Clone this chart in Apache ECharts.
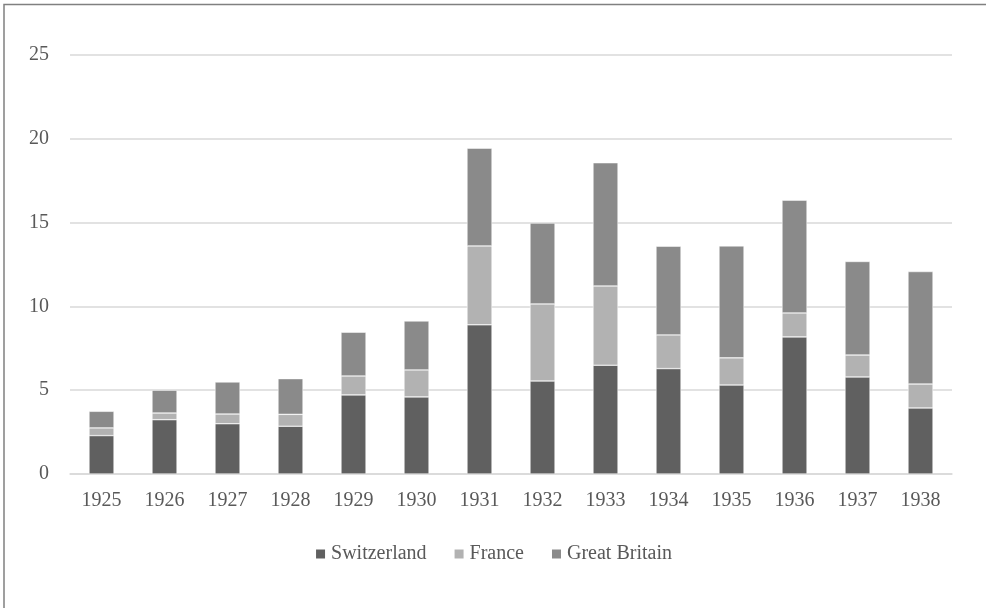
<!DOCTYPE html>
<html>
<head>
<meta charset="utf-8">
<script src="https://cdn.jsdelivr.net/npm/echarts@6/dist/echarts.min.js"></script>
<style>
  html, body { margin: 0; padding: 0; background: #fff; }
  #main { width: 986px; height: 608px; }
</style>
</head>
<body>
<div id="main"></div>
<script>
// data
const years = ["1925", "1926", "1927", "1928", "1929", "1930", "1931", "1932", "1933", "1934", "1935", "1936", "1937", "1938"];
const switzerland = [2.29, 3.24, 3.0, 2.85, 4.72, 4.6, 8.9, 5.55, 6.49, 6.29, 5.31, 8.18, 5.79, 3.94];
const france = [0.46, 0.4, 0.58, 0.71, 1.13, 1.61, 4.71, 4.6, 4.73, 2.01, 1.62, 1.43, 1.31, 1.43];
const greatBritain = [0.99, 1.36, 1.91, 2.13, 2.61, 2.92, 5.83, 4.82, 7.35, 5.29, 6.68, 6.73, 5.58, 6.71];

const textFont = "Liberation Serif";
const textColor = "#595959";

const chart = echarts.init(document.getElementById("main"));

function barSeries(name, data, color) {
  return {
    name: name,
    type: "bar",
    stack: "total",
    barWidth: 25,
    data: data,
    itemStyle: { color: color, borderColor: "#ffffff", borderWidth: 0.5 },
  };
}

chart.setOption({
  animation: false,
  textStyle: { fontFamily: textFont, color: textColor },
  // outer frame (right and bottom edges fall outside the window)
  graphic: [
    {
      type: "rect",
      shape: { x: 4, y: 4.5, width: 1000, height: 700 },
      style: { fill: null, stroke: "#808080", lineWidth: 1.5 },
      silent: true,
    },
  ],
  grid: {
    left: 70,
    right: 34,
    top: 55,
    bottom: 134,
  },
  legend: {
    data: ["Switzerland", "France", "Great Britain"],
    left: "center",
    top: 539,
    icon: "rect",
    itemWidth: 11,
    itemHeight: 11,
    itemGap: 26,
    textStyle: { fontFamily: textFont, fontSize: 20, color: textColor },
  },
  xAxis: {
    type: "category",
    data: years,
    axisTick: { show: false },
    axisLine: { lineStyle: { color: "#d9d9d9", width: 1.5 } },
    axisLabel: { fontFamily: textFont, fontSize: 20, color: textColor, margin: 17 },
  },
  yAxis: {
    type: "value",
    min: 0,
    max: 25,
    interval: 5,
    axisLine: { show: false },
    axisTick: { show: false },
    axisLabel: { fontFamily: textFont, fontSize: 20, color: textColor, margin: 21 },
    splitLine: { lineStyle: { color: "#d9d9d9", width: 1.5 } },
  },
  series: [
    barSeries("Switzerland", switzerland, "#606060"),
    barSeries("France", france, "#b2b2b2"),
    barSeries("Great Britain", greatBritain, "#8a8a8a"),
  ],
});
</script>
</body>
</html>
